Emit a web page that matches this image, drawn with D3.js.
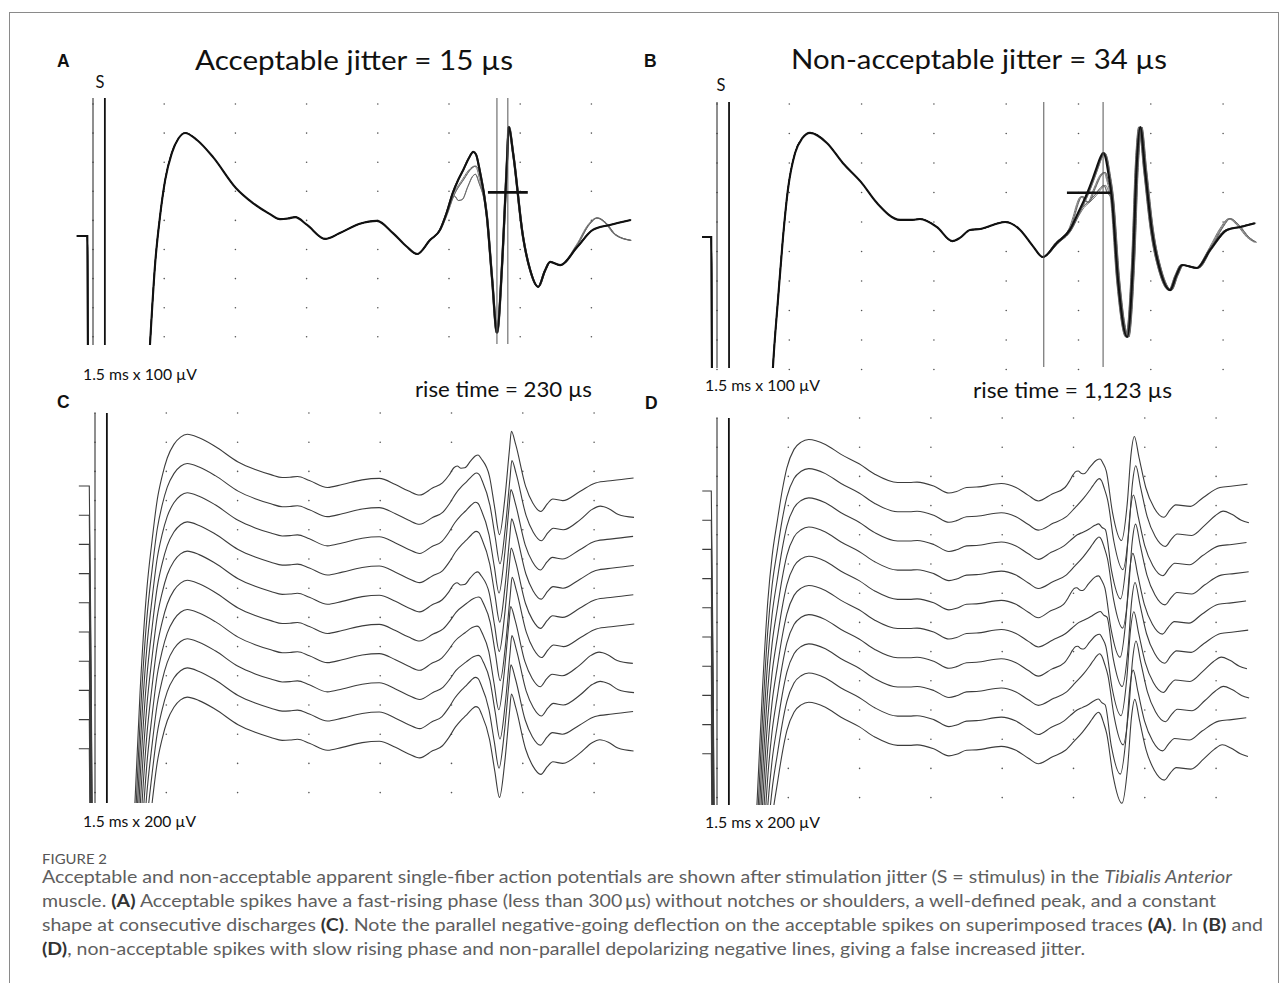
<!DOCTYPE html>
<html>
<head>
<meta charset="utf-8">
<script src="https://cdn.jsdelivr.net/npm/d3@7"></script>
<style>
  body { margin: 0; background: #fff; }
  svg { display: block; }
  text { font-family: Lato, "Open Sans", sans-serif; white-space: pre; }
</style>
</head>
<body>
<svg id="fig" width="1282" height="983"></svg>
<script>
// ---- data: time in ms after the stimulus, amplitude in µV ----

// averaged (thick) trace of the acceptable potential, panels A and C
const acceptableMean = [
  [-0.34, 0], [-0.12, 0], [-0.07, -1750], [-0.02, -3500], [0.6, -3500], [0.84, -2170], [0.95, -1400],
  [1.09, -710], [1.2, -375], [1.31, -93], [1.41, 65], [1.52, 192], [1.66, 285], [1.8, 335],
  [1.94, 354], [2.19, 330], [2.53, 271], [3.01, 165], [3.37, 113], [3.7, 78], [3.94, 58],
  [4.1, 60], [4.26, 65], [4.51, 38], [4.89, -10], [5.2, 10], [5.62, 42], [5.98, 52],
  [6.32, 10], [6.6, -35], [6.83, -62], [7.1, -14], [7.31, 21], [7.45, 80], [7.58, 148],
  [7.7, 195], [7.8, 227], [7.92, 268], [8.01, 289], [8.07, 280], [8.13, 240], [8.3, 65],
  [8.41, -151], [8.51, -333], [8.62, -93], [8.72, 251], [8.76, 375], [8.85, 285], [9.06, -3],
  [9.21, -117], [9.38, -175], [9.52, -120], [9.63, -89], [9.84, -100], [10.2, -38], [10.53, 21],
  [10.89, 38], [11.33, 55]
];
// shapes of the first (shoulder) peak seen on single discharges
const acceptableShoulders = [
  [[7.31, 21], [7.45, 80], [7.58, 148], [7.7, 195], [7.8, 227], [7.92, 268], [8.01, 289], [8.07, 280], [8.13, 240]],
  [[7.31, 21], [7.45, 75], [7.55, 125], [7.62, 137], [7.7, 122], [7.78, 125], [7.9, 170], [8.0, 205], [8.06, 212], [8.13, 185]],
  [[7.31, 21], [7.45, 75], [7.58, 135], [7.8, 195], [7.95, 230], [8.05, 240], [8.1, 232], [8.15, 200]]
];
const acceptableTails = [
  [[10.2, -38], [10.53, 21], [10.89, 38], [11.33, 55]],
  [[10.2, -30], [10.45, 40], [10.62, 62], [10.8, 45], [11.0, 5], [11.33, -15]]
];
// consecutive discharges (top to bottom in C): shoulder shape, tail shape, latency shift in µs
const acceptableDischarges = [
  {shoulder: 1, tail: 0, shift: 0}, {shoulder: 0, tail: 1, shift: 10},
  {shoulder: 0, tail: 0, shift: -10}, {shoulder: 0, tail: 0, shift: 5},
  {shoulder: 1, tail: 0, shift: -5}, {shoulder: 2, tail: 0, shift: 15},
  {shoulder: 2, tail: 1, shift: -15}, {shoulder: 2, tail: 1, shift: 10},
  {shoulder: 0, tail: 0, shift: -10}, {shoulder: 0, tail: 1, shift: 0}
];
const acceptableRise = [8.51, 8.74];       // vertical markers, ms
const acceptableBarWindow = [8.32, 9.16];  // ms
const acceptableBarLevel = 150;            // µV

// non-acceptable potential, panels B and D
const nonAcceptableMean = [
  [-0.31, 0], [-0.12, 0], [-0.07, -1750], [-0.02, -3500], [0.6, -3500], [0.84, -2150], [0.95, -1400],
  [1.07, -750], [1.16, -444], [1.27, -203], [1.37, 0], [1.47, 159], [1.62, 285], [1.77, 335],
  [1.93, 353], [2.28, 319], [2.61, 251], [2.99, 186], [3.32, 115], [3.8, 58], [4.05, 58],
  [4.21, 61], [4.56, 34], [4.88, -14], [5.04, -3], [5.25, 24], [5.46, 27], [5.98, 51],
  [6.29, 24], [6.55, -30], [6.76, -68], [7.05, -20], [7.32, 24], [7.5, 85], [7.68, 149],
  [7.8, 200], [7.88, 237], [7.96, 272], [8.01, 285], [8.06, 270], [8.12, 215], [8.19, 136],
  [8.32, -146], [8.51, -339], [8.63, -88], [8.71, 251], [8.78, 373], [8.88, 227], [9.02, 24],
  [9.19, -112], [9.4, -180], [9.53, -130], [9.65, -95], [9.96, -105], [10.23, -44], [10.58, 24],
  [10.85, 34], [11.16, 47]
];
const nonAcceptableShoulders = [
  [[7.32, 24], [7.5, 85], [7.68, 149], [7.8, 200], [7.88, 237], [7.96, 272], [8.01, 285], [8.06, 270], [8.12, 215]],
  [[7.32, 24], [7.42, 70], [7.49, 110], [7.56, 135], [7.6, 137], [7.66, 122], [7.72, 118], [7.85, 165], [7.98, 210], [8.06, 219], [8.12, 190]],
  [[7.32, 24], [7.45, 60], [7.6, 100], [7.72, 118], [7.85, 140], [7.97, 165], [8.05, 175], [8.12, 150]]
];
const nonAcceptableTails = [
  [[10.23, -44], [10.58, 24], [10.85, 34], [11.16, 47]],
  [[10.23, -35], [10.45, 30], [10.62, 62], [10.8, 40], [11.0, 0], [11.16, -18]]
];
const nonAcceptableDischarges = [
  {shoulder: 1, tail: 0, shift: 0}, {shoulder: 0, tail: 1, shift: 30},
  {shoulder: 2, tail: 0, shift: -20}, {shoulder: 0, tail: 0, shift: 25},
  {shoulder: 1, tail: 0, shift: -30}, {shoulder: 2, tail: 0, shift: 15},
  {shoulder: 1, tail: 1, shift: -10}, {shoulder: 0, tail: 1, shift: 35},
  {shoulder: 2, tail: 0, shift: -25}, {shoulder: 0, tail: 1, shift: 10}
];
const nonAcceptableRise = [6.78, 8.01];
const nonAcceptableBarWindow = [7.26, 8.19];
const nonAcceptableBarLevel = 150;

const stimulusMarks = [0, 0.25];  // the two "S" lines, ms
const MS_PER_DIV = 1.5;
const GRID_COLS = 8;

// ---- layout ----
const panels = {
  A: {x0: 93, divW: 71.2, baseY: 236, divH: 29.1, uvPerDiv: 100, gridTop: 104, rows: 9, top: 98, bottom: 345},
  B: {x0: 717, divW: 72.3, baseY: 237, divH: 29.5, uvPerDiv: 100, gridTop: 104, rows: 10, top: 102, bottom: 368},
  C: {x0: 95, divW: 71.3, baseY: 486, divH: 29.2, uvPerDiv: 200, gridTop: 413, rows: 14, top: 413, bottom: 803},
  D: {x0: 717, divW: 71.3, baseY: 491, divH: 29.2, uvPerDiv: 200, gridTop: 418, rows: 14, top: 418, bottom: 805}
};

const svg = d3.select("#fig");

svg.append("rect")
  .attr("x", 9.5).attr("y", 12.5)
  .attr("width", 1269).attr("height", 1000)
  .attr("fill", "none").attr("stroke", "#8a8a8a");

// one discharge = mean trace with its own shoulder and tail, spike complex shifted by its latency
function buildTrace(mean, shoulder, tail, shiftUs) {
  var lo = shoulder[0][0], hi = shoulder[shoulder.length - 1][0], tailFrom = tail[0][0];
  var pts = mean.filter(p => (p[0] < lo || p[0] > hi) && p[0] < tailFrom)
    .concat(shoulder, tail)
    .sort((a, b) => a[0] - b[0]);
  return pts.map(p => [p[0] >= 7 ? p[0] + shiftUs / 1000 : p[0], p[1]]);
}

function drawPanel(key, cfg, set, stacked) {
  var g = svg.append("g").attr("class", "panel-" + key);
  var x = d3.scaleLinear().domain([0, MS_PER_DIV]).range([cfg.x0, cfg.x0 + cfg.divW]);

  var clipId = "clip" + key;
  svg.append("clipPath").attr("id", clipId).append("rect")
    .attr("x", cfg.x0 - 30).attr("y", cfg.top - 40)
    .attr("width", 600).attr("height", cfg.bottom - cfg.top + 40);

  // dotted grid
  var dots = [];
  d3.range(GRID_COLS).forEach(c => {
    d3.range(cfg.rows).forEach(r => dots.push([x(c * MS_PER_DIV), cfg.gridTop + r * cfg.divH]));
  });
  g.selectAll("circle.dot").data(dots).join("circle")
    .attr("class", "dot")
    .attr("cx", d => d[0]).attr("cy", d => d[1])
    .attr("r", 0.8).attr("fill", "#555");

  // stimulus lines
  g.selectAll("line.stim").data(stimulusMarks).join("line")
    .attr("class", "stim")
    .attr("x1", d => x(d)).attr("x2", d => x(d))
    .attr("y1", cfg.top).attr("y2", cfg.bottom)
    .attr("stroke", (d, i) => i ? "#111" : "#333")
    .attr("stroke-width", (d, i) => i ? 1.8 : 1.1);

  var traces = g.append("g").attr("clip-path", "url(#" + clipId + ")");
  set.discharges.forEach((d, i) => {
    var pts = buildTrace(set.mean, set.shoulders[d.shoulder], set.tails[d.tail], d.shift);
    var base = stacked ? cfg.baseY + i * cfg.divH : cfg.baseY;
    var y = d3.scaleLinear().domain([0, cfg.uvPerDiv]).range([base, base - cfg.divH]);
    var line = d3.line().x(p => x(p[0])).y(p => y(p[1])).curve(d3.curveMonotoneX);
    traces.append("path")
      .attr("d", line(pts))
      .attr("fill", "none")
      .attr("stroke", stacked ? "#3c3c3c" : "#666")
      .attr("stroke-width", stacked ? 1.1 : 0.9);
  });

  if (!stacked) {
    var y = d3.scaleLinear().domain([0, cfg.uvPerDiv]).range([cfg.baseY, cfg.baseY - cfg.divH]);
    var line = d3.line().x(p => x(p[0])).y(p => y(p[1])).curve(d3.curveMonotoneX);
    traces.append("path")
      .attr("d", line(set.mean))
      .attr("fill", "none")
      .attr("stroke", "#111")
      .attr("stroke-width", 2.1);

    // rise-time markers and jitter window
    g.selectAll("line.rise").data(set.rise).join("line")
      .attr("class", "rise")
      .attr("x1", d => x(d)).attr("x2", d => x(d))
      .attr("y1", cfg.top).attr("y2", cfg.bottom - 1)
      .attr("stroke", "#555").attr("stroke-width", 1);
    g.append("line")
      .attr("x1", x(set.barWindow[0])).attr("x2", x(set.barWindow[1]))
      .attr("y1", y(set.barLevel)).attr("y2", y(set.barLevel))
      .attr("stroke", "#111").attr("stroke-width", 2.6);
  }
}

var acceptableSet = {
  mean: acceptableMean, shoulders: acceptableShoulders, tails: acceptableTails,
  discharges: acceptableDischarges, rise: acceptableRise,
  barWindow: acceptableBarWindow, barLevel: acceptableBarLevel
};
var nonAcceptableSet = {
  mean: nonAcceptableMean, shoulders: nonAcceptableShoulders, tails: nonAcceptableTails,
  discharges: nonAcceptableDischarges, rise: nonAcceptableRise,
  barWindow: nonAcceptableBarWindow, barLevel: nonAcceptableBarLevel
};

drawPanel("A", panels.A, acceptableSet, false);
drawPanel("B", panels.B, nonAcceptableSet, false);
drawPanel("C", panels.C, acceptableSet, true);
drawPanel("D", panels.D, nonAcceptableSet, true);

// ---- texts ----
function label(txt, x, y, size, opts) {
  opts = opts || {};
  var t = svg.append("text")
    .attr("x", x).attr("y", y)
    .attr("font-size", size)
    .attr("fill", opts.fill || "#111")
    .attr("text-anchor", opts.anchor || "start")
    .text(txt);
  if (opts.family) t.style("font-family", opts.family);
  if (opts.weight) t.attr("font-weight", opts.weight);
  if (opts.width) t.attr("textLength", opts.width).attr("lengthAdjust", "spacingAndGlyphs");
  return t;
}

var letterFont = '"Liberation Sans", Arial, sans-serif';
label("A", 57, 67, 17.5, {family: letterFont, weight: "bold"});
label("B", 644, 67, 17.5, {family: letterFont, weight: "bold"});
label("C", 57, 408, 17.5, {family: letterFont, weight: "bold"});
label("D", 645, 409, 17.5, {family: letterFont, weight: "bold"});

label("S", 100, 88, 16.5, {anchor: "middle"});
label("S", 721, 91, 16.5, {anchor: "middle"});

label("Acceptable jitter = 15 µs", 195, 70, 27, {width: 318});
label("Non-acceptable jitter = 34 µs", 791, 69, 27, {width: 376});

label("rise time = 230 µs", 415, 397, 21, {width: 177});
label("rise time = 1,123 µs", 973, 398, 21, {width: 199});

label("1.5 ms x 100 µV", 83, 380, 15, {width: 114});
label("1.5 ms x 100 µV", 705, 391, 15, {width: 115});
label("1.5 ms x 200 µV", 83, 827, 15, {width: 113});
label("1.5 ms x 200 µV", 705, 828, 15, {width: 115});

// ---- caption ----
label("FIGURE 2", 42, 864, 12.5, {fill: "#555", width: 65});

const captionLines = [
  [["Acceptable and non-acceptable apparent single-fiber action potentials are shown after stimulation jitter (S = stimulus) in the ", ""],
   ["Tibialis Anterior", "i"]],
  [["muscle. ", ""], ["(A)", "b"],
   [" Acceptable spikes have a fast-rising phase (less than 300\u2009µs) without notches or shoulders, a well-defined peak, and a constant", ""]],
  [["shape at consecutive discharges ", ""], ["(C)", "b"],
   [". Note the parallel negative-going deflection on the acceptable spikes on superimposed traces ", ""],
   ["(A)", "b"], [". In ", ""], ["(B)", "b"], [" and", ""]],
  [["(D)", "b"], [", non-acceptable spikes with slow rising phase and non-parallel depolarizing negative lines, giving a false increased jitter.", ""]]
];
const captionWidths = [1190, 1174, 1221, 1043];

captionLines.forEach((parts, i) => {
  var t = svg.append("text")
    .attr("x", 42).attr("y", 883 + i * 24)
    .attr("font-size", 16.5)
    .attr("fill", "#5e5e5e")
    .attr("textLength", captionWidths[i])
    .attr("lengthAdjust", "spacingAndGlyphs");
  parts.forEach(p => {
    var s = t.append("tspan").text(p[0]);
    if (p[1] === "i") s.attr("font-style", "italic");
    if (p[1] === "b") s.attr("font-weight", "bold").attr("fill", "#333");
  });
});
</script>
</body>
</html>
